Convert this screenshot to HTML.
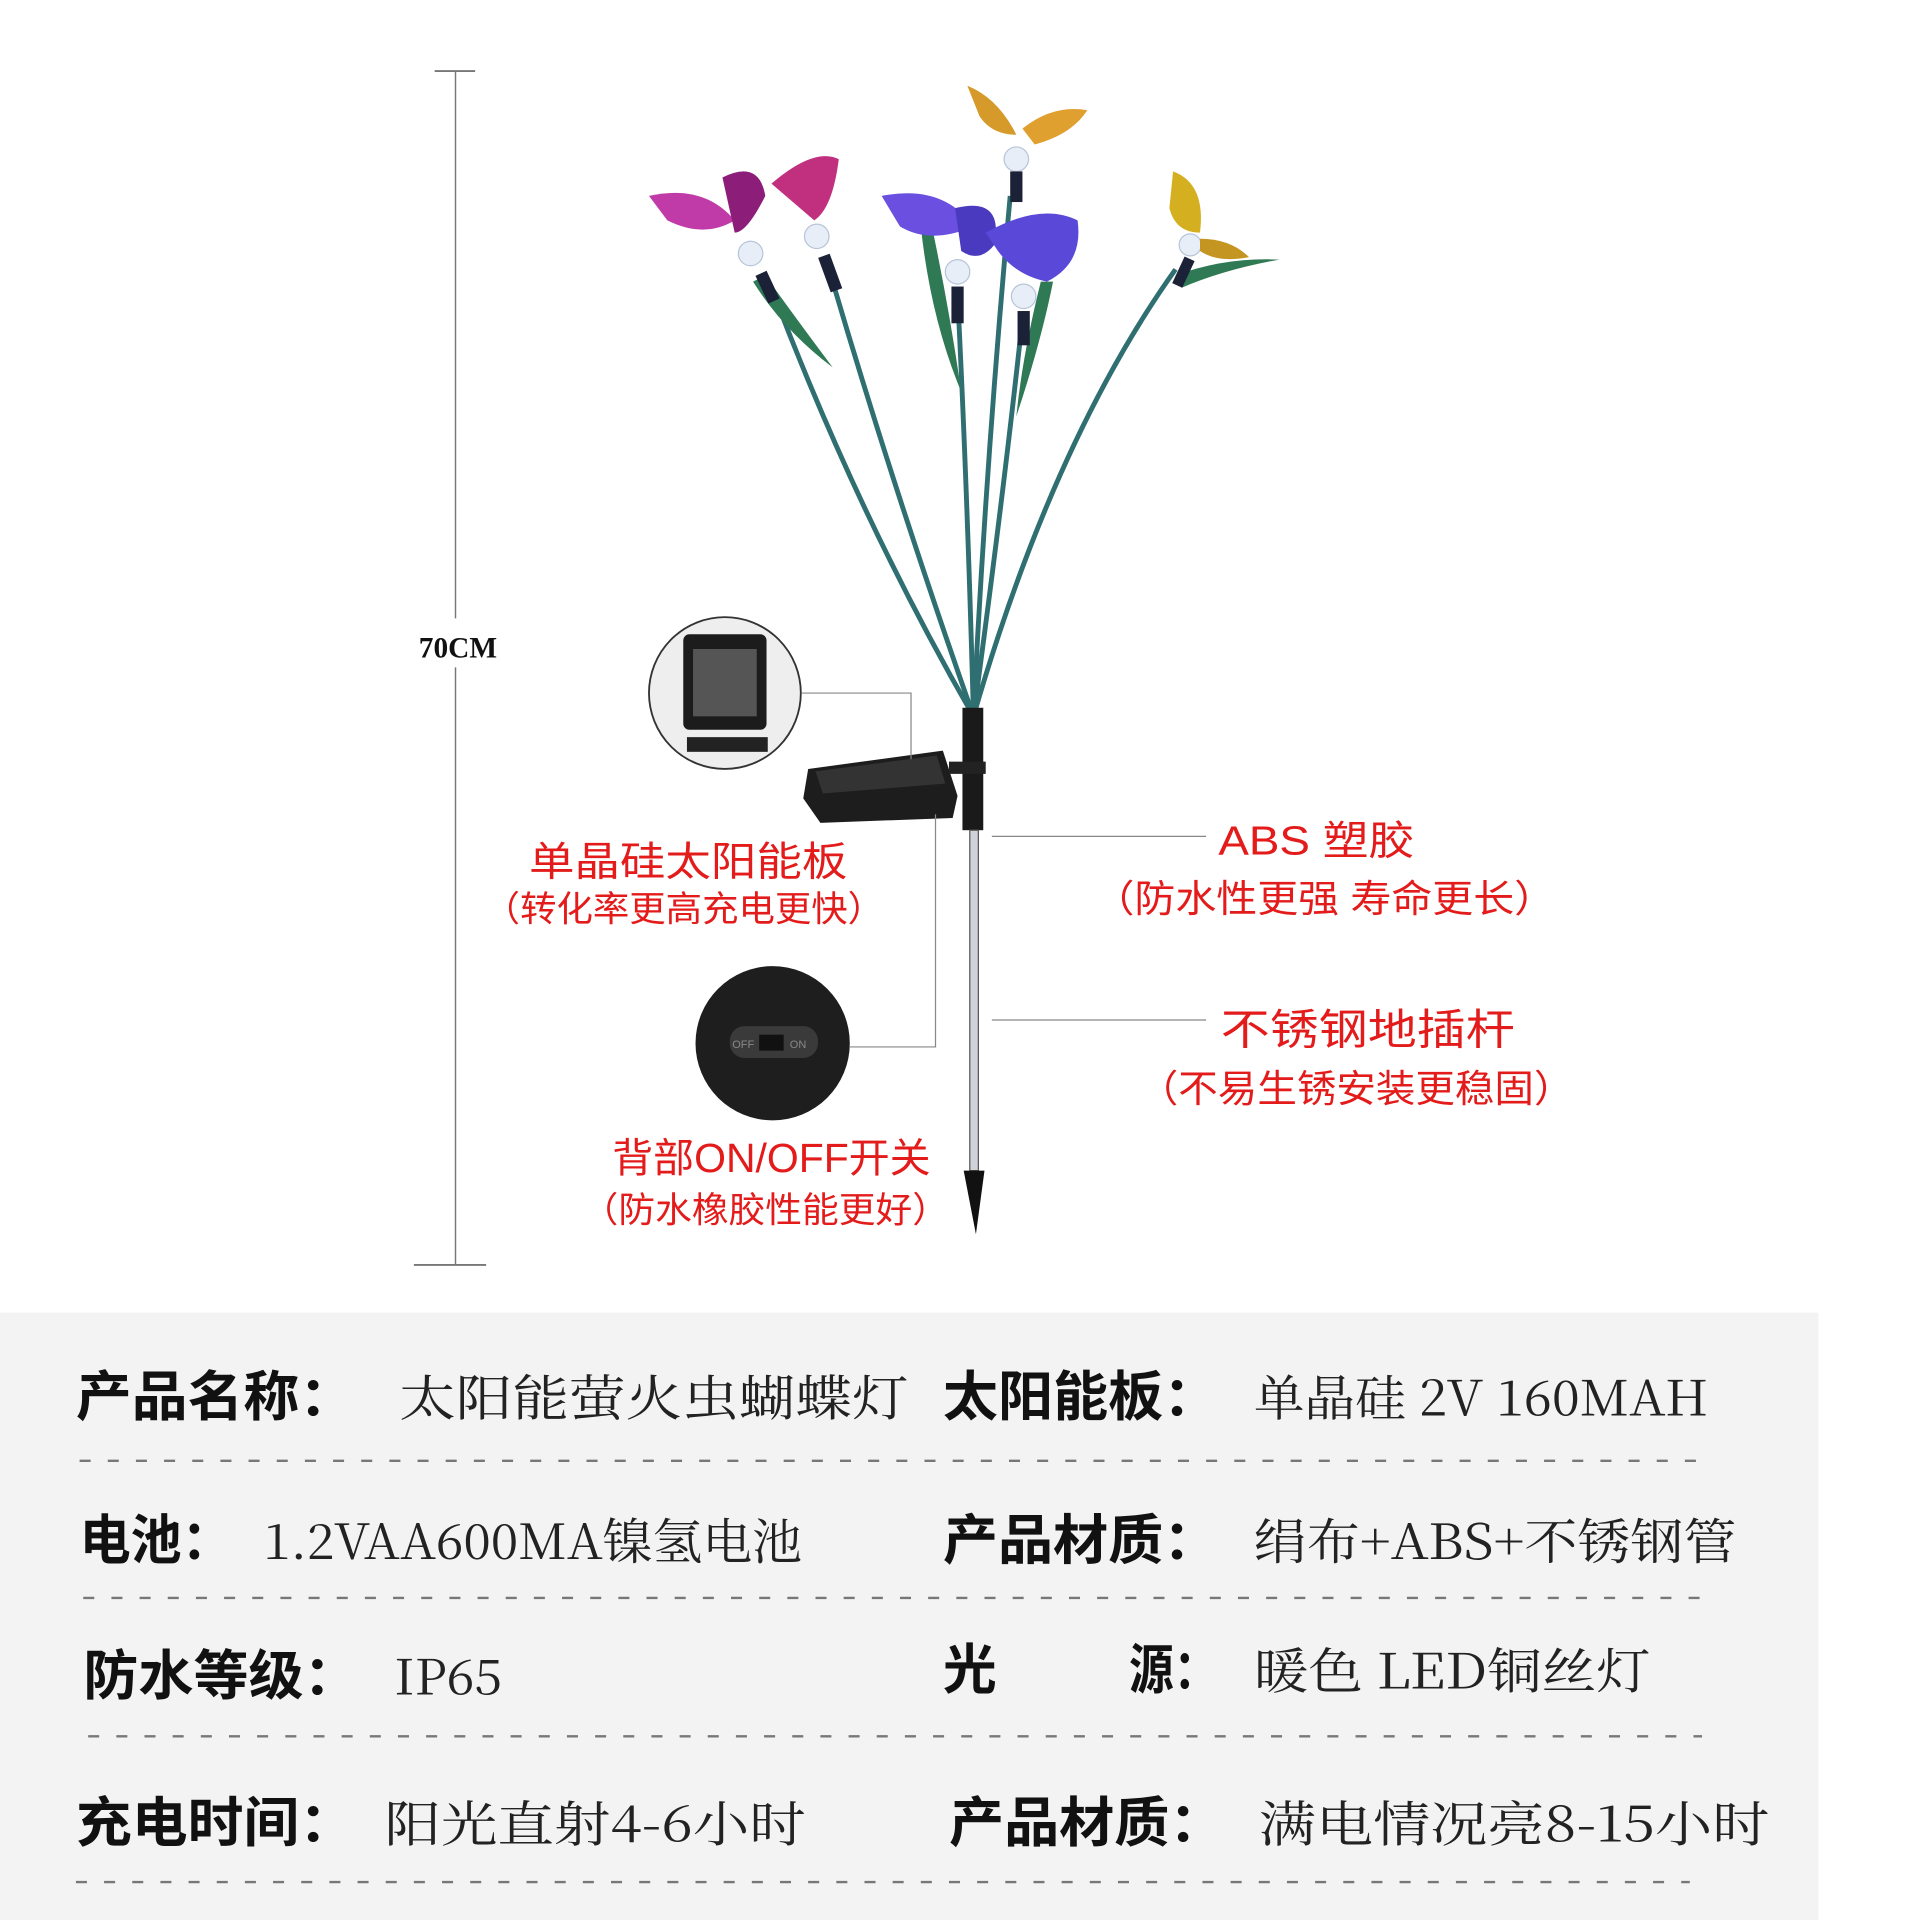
<!DOCTYPE html>
<html><head><meta charset="utf-8"><style>
html,body{margin:0;padding:0;background:#fff;}
svg{display:block;}
.k{font-family:"Liberation Sans","Noto Sans CJK SC",sans-serif;font-weight:bold;font-size:44px;fill:#111;}
.v{font-family:"Noto Serif CJK SC","Liberation Serif",serif;font-size:40px;fill:#222;}
.r{font-family:"Liberation Sans","Noto Sans CJK SC",sans-serif;fill:#e31b1b;}
</style></head><body>
<svg width="1920" height="1920" viewBox="0 0 1568 1568" xmlns="http://www.w3.org/2000/svg">
<rect width="1568" height="1568" fill="#fff"/>
<line x1="372" y1="58" x2="372" y2="505" stroke="#777" stroke-width="1.2"/>
<line x1="372" y1="545" x2="372" y2="1033" stroke="#777" stroke-width="1.2"/>
<line x1="355" y1="58" x2="388" y2="58" stroke="#777" stroke-width="1.5"/>
<line x1="338" y1="1033" x2="397" y2="1033" stroke="#777" stroke-width="1.5"/>
<text x="374" y="537" text-anchor="middle" font-family="Liberation Serif,serif" font-weight="bold" font-size="24" fill="#111">70CM</text>
<g fill="none" stroke="#2f6f72" stroke-width="4">
<path d="M795 585 Q700 420 630 235"/>
<path d="M795 585 Q730 400 680 230"/>
<path d="M795 585 Q790 400 782 240"/>
<path d="M795 585 Q820 400 835 260"/>
<path d="M795 585 Q860 360 960 220"/>
<path d="M795 585 Q805 380 825 160"/>
</g>
<g fill="#2f7a55">
<path d="M615 230 Q640 270 680 300 Q650 260 625 225Z"/>
<path d="M752 185 Q760 260 785 320 Q775 250 760 180Z"/>
<path d="M850 230 Q835 290 830 340 Q850 280 860 230Z"/>
<path d="M960 225 Q1000 210 1045 212 Q1000 220 965 235Z"/>
</g>
<g fill="#e8eef7" stroke="#b8c4d8">
<circle cx="613" cy="207" r="10"/><circle cx="667" cy="193" r="10"/><circle cx="782" cy="222" r="10"/><circle cx="836" cy="242" r="10"/><circle cx="972" cy="200" r="9"/><circle cx="830" cy="130" r="10"/>
</g>
<g fill="#1b2238">
<rect x="622" y="222" width="10" height="25" transform="rotate(-25 627 235)"/>
<rect x="673" y="208" width="10" height="30" transform="rotate(-20 678 223)"/>
<rect x="777" y="234" width="10" height="30"/><rect x="831" y="254" width="10" height="28"/>
<rect x="962" y="210" width="9" height="24" transform="rotate(25 966 222)"/><rect x="825" y="140" width="10" height="25"/>
</g>
<path d="M530 160 Q575 150 600 180 Q575 195 545 180Z" fill="#c03aa8"/>
<path d="M590 145 Q620 130 625 160 Q610 190 600 190Z" fill="#8c1e7a"/>
<path d="M630 150 Q665 120 685 130 Q680 170 665 180Z" fill="#c0307e"/>
<path d="M720 160 Q770 150 795 185 Q760 200 735 185Z" fill="#6a4fe0"/>
<path d="M780 170 Q820 160 812 200 Q800 215 785 205Z" fill="#4a3ac0"/>
<path d="M805 190 Q850 165 880 180 Q885 215 855 230 Q830 225 815 205Z" fill="#5a48d8"/>
<path d="M790 70 Q815 80 830 110 Q810 110 800 95Z" fill="#d59a2a"/>
<path d="M835 105 Q860 85 888 90 Q875 110 845 118Z" fill="#e0a030"/>
<path d="M958 140 Q985 150 980 190 Q960 190 955 170Z" fill="#d4b020"/>
<path d="M980 195 Q1005 195 1020 210 Q995 215 980 205Z" fill="#c49520"/>
<rect x="786" y="578" width="17" height="100" fill="#1a1a1a"/>
<rect x="792" y="678" width="7" height="278" fill="#cfd3d8" stroke="#555" stroke-width="1"/>
<path d="M787 956 L804 956 L797 1008Z" fill="#111"/>
<path d="M660 628 L770 613 L782 650 L778 668 L670 672 L656 652Z" fill="#1d1d1d"/>
<path d="M666 630 L765 617 L772 640 L672 648Z" fill="#333"/>
<rect x="775" y="622" width="30" height="10" fill="#222"/>
<circle cx="592" cy="566" r="62" fill="#eee" stroke="#333" stroke-width="1.5"/>
<rect x="558" y="518" width="68" height="78" rx="5" fill="#1c1c1c"/>
<rect x="566" y="530" width="52" height="55" fill="#555"/>
<rect x="561" y="602" width="66" height="12" fill="#222"/>
<polyline points="655,566 744,566 744,620" fill="none" stroke="#888" stroke-width="1"/>
<circle cx="631" cy="852" r="63" fill="#1e1e1e"/>
<rect x="596" y="838" width="72" height="26" rx="12" fill="#3a3a3a"/>
<rect x="620" y="845" width="20" height="13" fill="#111"/>
<text x="598" y="856" font-size="9" fill="#888" font-family="Liberation Sans,sans-serif">OFF</text>
<text x="645" y="856" font-size="9" fill="#888" font-family="Liberation Sans,sans-serif">ON</text>
<polyline points="694,855 764,855 764,665" fill="none" stroke="#888" stroke-width="1"/>
<line x1="810" y1="683" x2="985" y2="683" stroke="#888" stroke-width="1"/>
<line x1="810" y1="833" x2="985" y2="833" stroke="#888" stroke-width="1"/>
<g lengthAdjust="spacingAndGlyphs">
<text class="r" x="432" y="715" font-size="33" textLength="260" lengthAdjust="spacingAndGlyphs">单晶硅太阳能板</text>
<text class="r" x="395" y="752" font-size="29" textLength="327" lengthAdjust="spacingAndGlyphs">（转化率更高充电更快）</text>
<text class="r" x="995" y="698" font-size="33" textLength="160" lengthAdjust="spacingAndGlyphs">ABS 塑胶</text>
<text class="r" x="893" y="745" font-size="31" textLength="377" lengthAdjust="spacingAndGlyphs">（防水性更强 寿命更长）</text>
<text class="r" x="997" y="853" font-size="35" textLength="240" lengthAdjust="spacingAndGlyphs">不锈钢地插杆</text>
<text class="r" x="930" y="900" font-size="31" textLength="355" lengthAdjust="spacingAndGlyphs">（不易生锈安装更稳固）</text>
<text class="r" x="500" y="957" font-size="33" textLength="260" lengthAdjust="spacingAndGlyphs">背部ON/OFF开关</text>
<text class="r" x="475" y="998" font-size="29" textLength="300" lengthAdjust="spacingAndGlyphs">（防水橡胶性能更好）</text>
</g>
<rect x="0" y="1072" width="1485" height="496" fill="#f3f3f3"/>
<g stroke="#777" stroke-width="2" stroke-dasharray="9,14">
<line x1="65" y1="1193" x2="1395" y2="1193"/>
<line x1="68" y1="1305" x2="1400" y2="1305"/>
<line x1="72" y1="1418" x2="1390" y2="1418"/>
<line x1="62" y1="1537" x2="1380" y2="1537"/>
</g>
<text class="k" x="62" y="1156" textLength="228" lengthAdjust="spacingAndGlyphs">产品名称：</text>
<text class="v" x="326" y="1156" textLength="416" lengthAdjust="spacingAndGlyphs">太阳能萤火虫蝴蝶灯</text>
<text class="k" x="770" y="1156" textLength="225" lengthAdjust="spacingAndGlyphs">太阳能板：</text>
<text class="v" x="1024" y="1156" textLength="371" lengthAdjust="spacingAndGlyphs">单晶硅 2V 160MAH</text>
<text class="k" x="65" y="1273" textLength="125" lengthAdjust="spacingAndGlyphs">电池：</text>
<text class="v" x="215" y="1273" textLength="440" lengthAdjust="spacingAndGlyphs">1.2VAA600MA镍氢电池</text>
<text class="k" x="770" y="1273" textLength="225" lengthAdjust="spacingAndGlyphs">产品材质：</text>
<text class="v" x="1024" y="1273" textLength="394" lengthAdjust="spacingAndGlyphs">绢布+ABS+不锈钢管</text>
<text class="k" x="68" y="1384" textLength="225" lengthAdjust="spacingAndGlyphs">防水等级：</text>
<text class="v" x="322" y="1384" textLength="88" lengthAdjust="spacingAndGlyphs">IP65</text>
<text class="k" x="770" y="1379">光</text>
<text class="k" x="922" y="1379" textLength="73" lengthAdjust="spacingAndGlyphs">源：</text>
<text class="v" x="1024" y="1379" textLength="324" lengthAdjust="spacingAndGlyphs">暖色 LED铜丝灯</text>
<text class="k" x="62" y="1504" textLength="228" lengthAdjust="spacingAndGlyphs">充电时间：</text>
<text class="v" x="314" y="1504" textLength="344" lengthAdjust="spacingAndGlyphs">阳光直射4-6小时</text>
<text class="k" x="775" y="1504" textLength="225" lengthAdjust="spacingAndGlyphs">产品材质：</text>
<text class="v" x="1028" y="1504" textLength="417" lengthAdjust="spacingAndGlyphs">满电情况亮8-15小时</text>
</svg>
</body></html>
